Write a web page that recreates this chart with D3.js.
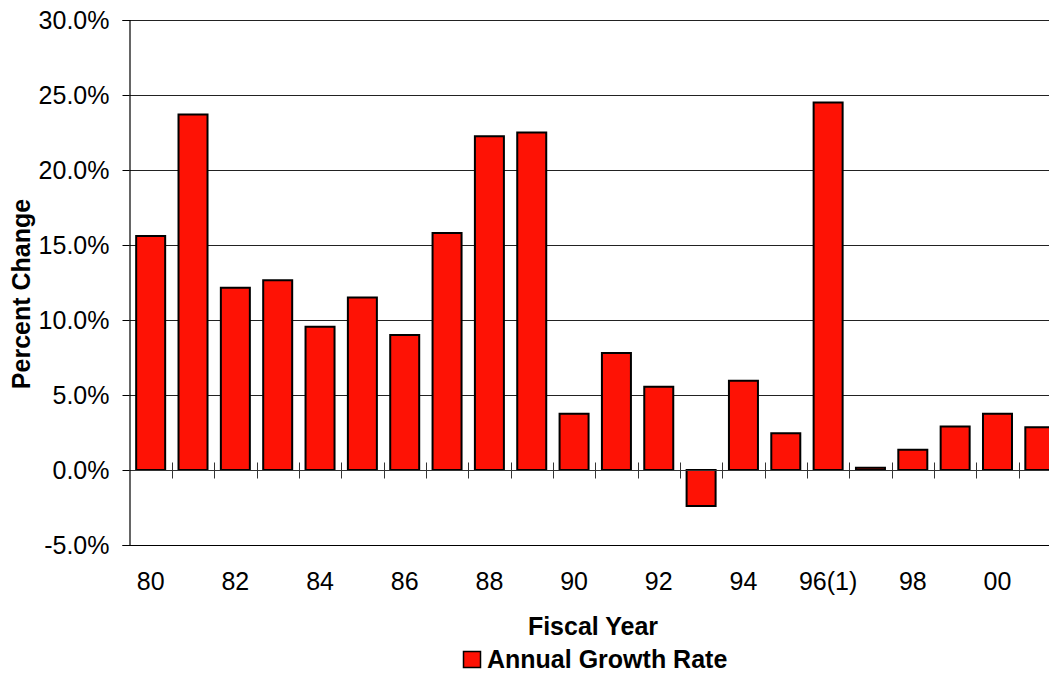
<!DOCTYPE html>
<html>
<head>
<meta charset="utf-8">
<script src="https://cdn.jsdelivr.net/npm/d3@7"></script>
<style>
  html, body { margin: 0; padding: 0; background: #fff; overflow: hidden; }
  svg { display: block; font-family: "Liberation Sans", Arial, sans-serif; }
</style>
</head>
<body>
<svg id="chart" width="1049" height="675"></svg>
<script>
const categories = ["80","81","82","83","84","85","86","87","88","89","90","91","92","93","94","95","96","97","98","99","00","01"];
const growthRate = [15.6, 23.7, 12.15, 12.65, 9.55, 11.5, 9.0, 15.8, 22.25, 22.5, 3.75, 7.8, 5.55, -2.4, 5.95, 2.45, 24.5, 0.15, 1.35, 2.9, 3.75, 2.85];
const xTickLabels = ["80","","82","","84","","86","","88","","90","","92","","94","","96(1)","","98","","00",""];
const yTicks = [-5, 0, 5, 10, 15, 20, 25, 30];
const seriesName = "Annual Growth Rate";
const xTitle = "Fiscal Year";
const yTitle = "Percent Change";

const svg = d3.select("#chart");
const plotLeft = 129.5, plotTop = 20, plotBottom = 545, plotRight = 1061;
const red = "#fe1205";
const fs = 25;

const x = d3.scaleBand().domain(categories).range([plotLeft, plotRight]).padding(0);
const y = d3.scaleLinear().domain([-5, 30]).range([plotBottom, plotTop]);
const barW = x.bandwidth() * 0.685;

// gridlines
svg.append("g").selectAll("line")
  .data(yTicks.filter(d => d > 0))
  .join("line")
  .attr("x1", plotLeft).attr("x2", 1049)
  .attr("y1", d => Math.round(y(d)) + 0.5).attr("y2", d => Math.round(y(d)) + 0.5)
  .attr("stroke", "#222").attr("stroke-width", 1);

// bars
svg.append("g").selectAll("rect")
  .data(categories.map((c, i) => ({c, v: growthRate[i]})))
  .join("rect")
  .attr("x", d => x(d.c) + (x.bandwidth() - barW) / 2)
  .attr("width", barW)
  .attr("y", d => y(Math.max(0, d.v)))
  .attr("height", d => Math.abs(y(d.v) - y(0)))
  .attr("fill", red)
  .attr("stroke", "#000")
  .attr("stroke-width", 2);

// zero (category) axis with crossing ticks
const zy = Math.round(y(0)) + 0.5;
svg.append("line")
  .attr("x1", plotLeft).attr("x2", 1049).attr("y1", zy).attr("y2", zy)
  .attr("stroke", "#333").attr("stroke-width", 1);
svg.append("g").selectAll("line")
  .data(categories.slice(1))
  .join("line")
  .attr("x1", d => Math.round(x(d)) + 0.5).attr("x2", d => Math.round(x(d)) + 0.5)
  .attr("y1", zy - 8).attr("y2", zy + 8)
  .attr("stroke", "#333").attr("stroke-width", 1);

// bottom border
svg.append("line")
  .attr("x1", plotLeft).attr("x2", 1049).attr("y1", Math.round(y(-5)) + 0.5).attr("y2", Math.round(y(-5)) + 0.5)
  .attr("stroke", "#000").attr("stroke-width", 1.2);

// y axis
const yAxis = d3.axisLeft(y).tickValues(yTicks).tickFormat(d => d.toFixed(1) + "%").tickSize(7).tickPadding(13);
const gy = svg.append("g").attr("transform", `translate(${plotLeft},0)`).call(yAxis);
gy.select(".domain").attr("stroke", "#000").attr("stroke-width", 1.2);
gy.selectAll(".tick line").attr("stroke", "#000");
gy.selectAll(".tick text").attr("font-size", fs).attr("font-family", "Liberation Sans, Arial, sans-serif").attr("fill", "#000");

// x labels
svg.append("g").selectAll("text")
  .data(categories.map((c, i) => ({c, t: xTickLabels[i]})).filter(d => d.t))
  .join("text")
  .attr("x", d => x(d.c) + x.bandwidth() / 2)
  .attr("y", 590)
  .attr("text-anchor", "middle")
  .attr("font-size", fs)
  .attr("fill", "#000")
  .text(d => d.t);

// axis titles
svg.append("text")
  .attr("x", 593).attr("y", 635)
  .attr("text-anchor", "middle").attr("font-size", fs).attr("font-weight", "bold")
  .text(xTitle);
svg.append("text")
  .attr("transform", "translate(30,294) rotate(-90)")
  .attr("text-anchor", "middle").attr("font-size", fs).attr("font-weight", "bold")
  .text(yTitle);

// legend
svg.append("rect")
  .attr("x", 463.5).attr("y", 651.5).attr("width", 17).attr("height", 16)
  .attr("fill", red).attr("stroke", "#000").attr("stroke-width", 1.5);
svg.append("text")
  .attr("x", 487).attr("y", 668)
  .attr("font-size", fs).attr("font-weight", "bold")
  .text(seriesName);
</script>
</body>
</html>
